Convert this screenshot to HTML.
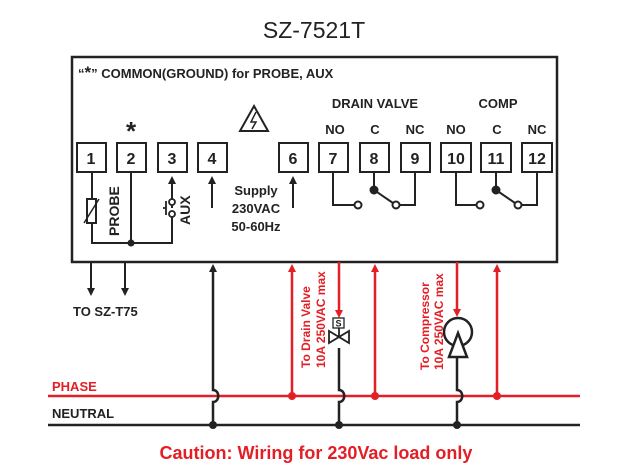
<!DOCTYPE html>
<html><head><meta charset="utf-8"><style>
html,body{margin:0;padding:0;background:#fff;}
svg{display:block;font-family:"Liberation Sans",Arial,sans-serif;}
.b{font-weight:bold;}
</style></head><body>
<svg width="629" height="472" viewBox="0 0 629 472">
<defs>
<marker id="ak" markerWidth="8" markerHeight="8" refX="4" refY="4" orient="auto" markerUnits="userSpaceOnUse"><path d="M0,0 L8,4 L0,8 z" fill="#222"/></marker>
<marker id="ar" markerWidth="8" markerHeight="8" refX="4" refY="4" orient="auto" markerUnits="userSpaceOnUse"><path d="M0,0 L8,4 L0,8 z" fill="#e31e24"/></marker>
</defs>
<text x="314" y="38" text-anchor="middle" font-size="23" fill="#222">SZ-7521T</text>
<rect x="72" y="57" width="485" height="205" fill="none" stroke="#222" stroke-width="2.5"/>
<text x="78" y="78" font-size="13" class="b" fill="#222">“<tspan font-size="17">*</tspan>” COMMON(GROUND) for PROBE, AUX</text>
<text x="131" y="140" font-size="26" class="b" text-anchor="middle" fill="#222">*</text>
<path d="M254,106 L268,131 L240,131 Z" fill="none" stroke="#222" stroke-width="2"/>
<path d="M256,112 L251,122 L256,122 L252,129" fill="none" stroke="#222" stroke-width="1.5"/>
<g font-size="13" class="b" fill="#222" text-anchor="middle">
<text x="375" y="108">DRAIN VALVE</text>
<text x="498" y="108">COMP</text>
<text x="335" y="134">NO</text><text x="375" y="134">C</text><text x="415" y="134">NC</text>
<text x="456" y="134">NO</text><text x="497" y="134">C</text><text x="537" y="134">NC</text>
</g>
<g fill="#fff" stroke="#222" stroke-width="2">
<rect x="77" y="143" width="29" height="29"/><rect x="117" y="143" width="29" height="29"/>
<rect x="158" y="143" width="29" height="29"/><rect x="198" y="143" width="29" height="29"/>
<rect x="279" y="143" width="29" height="29"/><rect x="319" y="143" width="29" height="29"/>
<rect x="360" y="143" width="29" height="29"/><rect x="401" y="143" width="29" height="29"/>
<rect x="441" y="143" width="30" height="29"/><rect x="481" y="143" width="30" height="29"/>
<rect x="522" y="143" width="30" height="29"/>
</g>
<g font-size="16" class="b" fill="#222" text-anchor="middle">
<text x="91" y="164">1</text><text x="131" y="164">2</text><text x="172" y="164">3</text><text x="212" y="164">4</text>
<text x="293" y="164">6</text><text x="333" y="164">7</text><text x="374" y="164">8</text><text x="415" y="164">9</text>
<text x="456" y="164">10</text><text x="496" y="164">11</text><text x="537" y="164">12</text>
</g>
<g stroke="#222" stroke-width="2" fill="none">
<path d="M92,172 V243 H172 V216"/>
<path d="M131,172 V243"/>
<path d="M172,208 V180" marker-end="url(#ak)"/>
<rect x="87" y="199" width="9" height="24" fill="#fff"/>
<path d="M84,223 L99,199" stroke-width="1.5"/>
<path d="M212,208 V180" marker-end="url(#ak)"/>
<path d="M293,208 V180" marker-end="url(#ak)"/>
<path d="M333,172 V205 H355"/><circle cx="358" cy="205" r="3.5" fill="#fff"/>
<path d="M374,172 V190 L393,203"/><circle cx="374" cy="190" r="3.5" fill="#222"/>
<path d="M415,172 V205 H400"/><circle cx="396" cy="205" r="3.5" fill="#fff"/>
<path d="M456,172 V205 H477"/><circle cx="480" cy="205" r="3.5" fill="#fff"/>
<path d="M496,172 V190 L515,203"/><circle cx="496" cy="190" r="3.5" fill="#222"/>
<path d="M537,172 V205 H522"/><circle cx="518" cy="205" r="3.5" fill="#fff"/>
</g>
<g stroke="#222" stroke-width="1.8" fill="#fff">
<circle cx="172" cy="202" r="3"/><circle cx="172" cy="214" r="3"/>
<path d="M166,201 V215 M163,208 H166" fill="none"/>
</g>
<circle cx="131" cy="243" r="3.5" fill="#222"/>
<text transform="translate(119,236) rotate(-90)" font-size="14" class="b" fill="#222">PROBE</text>
<text transform="translate(190,225) rotate(-90)" font-size="14" class="b" fill="#222">AUX</text>
<g font-size="13" class="b" fill="#222" text-anchor="middle">
<text x="256" y="195">Supply</text><text x="256" y="213">230VAC</text><text x="256" y="231">50-60Hz</text>
</g>
<g stroke="#222" stroke-width="2" fill="none">
<path d="M91,262 V292" marker-end="url(#ak)"/>
<path d="M125,262 V292" marker-end="url(#ak)"/>
</g>
<text x="73" y="316" font-size="13" class="b" fill="#222">TO SZ-T75</text>
<text x="52" y="391" font-size="13" class="b" fill="#e31e24">PHASE</text>
<text x="52" y="418" font-size="13" class="b" fill="#222">NEUTRAL</text>
<line x1="48" y1="396" x2="580" y2="396" stroke="#e31e24" stroke-width="2.5"/>
<line x1="48" y1="425" x2="580" y2="425" stroke="#222" stroke-width="2.5"/>
<g stroke="#222" stroke-width="2.5" fill="none">
<path d="M213,425 V402 C220,402 220,390 213,390 V268" marker-end="url(#ak)"/>
<path d="M339,425 V402 C346,402 346,390 339,390 V348"/>
<path d="M457,425 V402 C464,402 464,390 457,390 V357"/>
</g>
<g fill="#222"><circle cx="213" cy="425" r="4"/><circle cx="339" cy="425" r="4"/><circle cx="457" cy="425" r="4"/></g>
<g stroke="#e31e24" stroke-width="2.5" fill="none">
<path d="M292,396 V268" marker-end="url(#ar)"/>
<path d="M375,396 V268" marker-end="url(#ar)"/>
<path d="M497,396 V268" marker-end="url(#ar)"/>
<path d="M339,262 V314" marker-end="url(#ar)"/>
<path d="M457,262 V313" marker-end="url(#ar)"/>
</g>
<g fill="#e31e24"><circle cx="292" cy="396" r="4"/><circle cx="375" cy="396" r="4"/><circle cx="497" cy="396" r="4"/></g>
<rect x="333" y="318" width="11" height="10" fill="#fff" stroke="#222" stroke-width="1.3"/>
<text x="338.5" y="326.5" font-size="9" text-anchor="middle" class="b" fill="#222">S</text>
<path d="M339,328 V337 M329,331 L349,343 V331 L329,343 Z" fill="#fff" stroke="#222" stroke-width="1.8"/>
<circle cx="458" cy="332" r="14" fill="#fff" stroke="#222" stroke-width="2.5"/>
<path d="M458,333 L467,357 L449,357 Z" fill="#fff" stroke="#222" stroke-width="2.5"/>
<g font-size="12" class="b" fill="#e31e24">
<text transform="translate(310,368) rotate(-90)">To Drain Valve</text>
<text transform="translate(325,368) rotate(-90)">10A 250VAC max</text>
<text transform="translate(429,370) rotate(-90)">To Compressor</text>
<text transform="translate(443,370) rotate(-90)">10A 250VAC max</text>
</g>
<text x="316" y="459" font-size="18" class="b" text-anchor="middle" fill="#e31e24">Caution: Wiring for 230Vac load only</text>
</svg>
</body></html>
